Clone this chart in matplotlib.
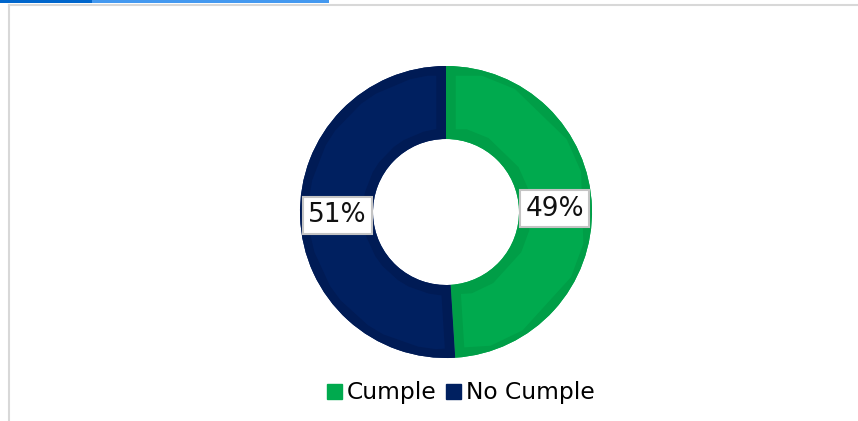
import numpy as np
import matplotlib.pyplot as plt
from matplotlib.patches import Rectangle
from matplotlib.lines import Line2D

labels = ['Cumple', 'No Cumple']
values = [49, 51]
colors = ['#00AA4E', '#002060']
edge_colors = ['#009E47', '#001B55']

W, H = 858, 421
fig = plt.figure(figsize=(W / 100, H / 100), dpi=100)

# page decoration: tab bar on top, grey frame
fig.add_artist(Rectangle((0, 1 - 3 / H), 92 / W, 3 / H, transform=fig.transFigure,
                         color='#0066CC', lw=0))
fig.add_artist(Rectangle((92 / W, 1 - 3 / H), 237 / W, 3 / H, transform=fig.transFigure,
                         color='#4499F0', lw=0))
fig.add_artist(Line2D([8.5 / W, 1], [1 - 5 / H, 1 - 5 / H], transform=fig.transFigure,
                      color='#d8d8d8', lw=1.5))
fig.add_artist(Line2D([8.5 / W, 8.5 / W], [0, 1 - 5 / H], transform=fig.transFigure,
                      color='#d8d8d8', lw=1.5))

cx, cy, r = 446, 212, 146
ax = fig.add_axes([(cx - r) / W, (H - cy - r) / H, 2 * r / W, 2 * r / H])

wedges, texts = ax.pie(values, colors=colors, startangle=90, counterclock=False,
                       radius=1, wedgeprops=dict(width=0.5, lw=0))
ax.set_xlim(-1, 1)
ax.set_ylim(-1, 1)
ax.set_aspect('equal')
ax.axis('off')

# darker inner stroke on each slice
for w, ec in zip(wedges, edge_colors):
    p = ax.add_patch(plt.Polygon(w.get_path().vertices, closed=True, fc='none',
                                 ec=ec, lw=14))
    p.set_clip_path(w.get_path(), ax.transData)

total = sum(values)
start = 90
for v in values:
    ang = np.deg2rad(start - v / total * 180)
    ax.text(0.745 * np.cos(ang), 0.745 * np.sin(ang), f'{v}%', ha='center', va='center',
            fontsize=19, color='#111111',
            bbox=dict(boxstyle='square,pad=0.2', fc='white', ec='#c4c4c4', lw=1.5))
    start -= v / total * 360

handles = [Rectangle((0, 0), 1, 1, color=c) for c in colors]
fig.legend(handles, labels, loc='center', bbox_to_anchor=(461 / W, 1 - 393 / H),
           ncol=2, frameon=False, fontsize=16.8, handlelength=0.65, handleheight=0.65,
           handletextpad=0.2, columnspacing=0.4, borderaxespad=0)

fig.savefig('out.png', dpi=100)
